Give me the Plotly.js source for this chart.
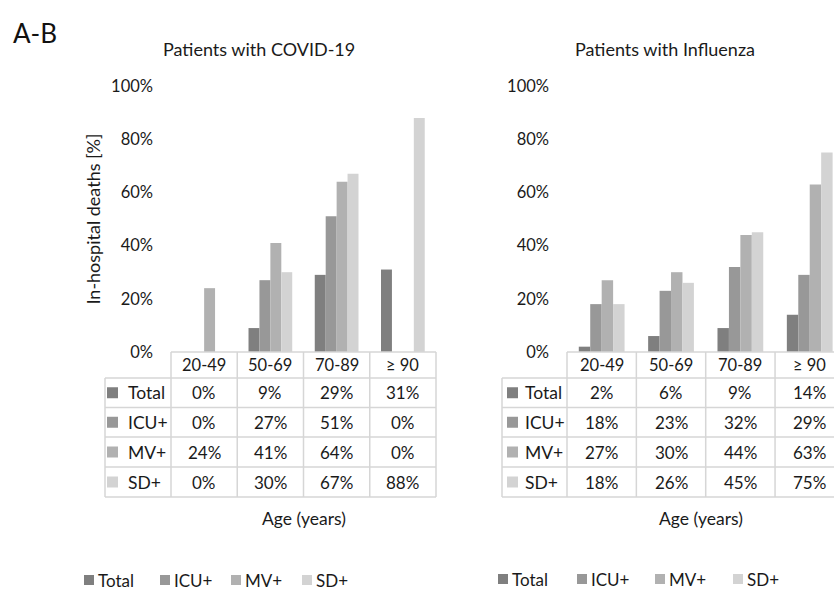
<!DOCTYPE html>
<html><head><meta charset="utf-8">
<script src="https://cdn.plot.ly/plotly-3.0.1.min.js"></script>
<style>html,body{margin:0;padding:0;background:#fff}</style>
</head><body><div id="chart" style="width:834px;height:590px"></div>
<script>
// ---- data ----
const ageGroups = ['20-49', '50-69', '70-89', '≥ 90'];
const seriesNames = ['Total', 'ICU+', 'MV+', 'SD+'];
const covidTotal = [0, 9, 29, 31];
const covidICU   = [0, 27, 51, 0];
const covidMV    = [24, 41, 64, 0];
const covidSD    = [0, 30, 67, 88];
const fluTotal = [2, 6, 9, 14];
const fluICU   = [18, 23, 32, 29];
const fluMV    = [27, 30, 44, 63];
const fluSD    = [18, 26, 45, 75];
const yTicks = [0, 20, 40, 60, 80, 100];
const panelTitles = ['Patients with COVID-19', 'Patients with Influenza'];
const seriesColors = ['#7f7f7f', '#989898', '#b1b1b1', '#d3d3d3'];

// ---- geometry ----
const W = 834, H = 590;
const X = p => p / W;
const Y = p => 1 - p / H;
const FONT = 'Lato, "Open Sans", sans-serif';
const TXT = '#1a1a1a';
const GRID = '#d6d6d6';
const NUM = 16.5, WORD = 17.5;
const rowY = [352, 378, 407.5, 437, 467, 497];

const panels = [
  {xa: 'x', ya: 'y', dom: [171, 436], range: [-0.5, 3.5], labelLeft: 105, sqLeft: 107, textLeft: 126,
   titleX: 259, data: [covidTotal, covidICU, covidMV, covidSD], legSq: [84, 160, 231, 302], legY: 580},
  {xa: 'x2', ya: 'y2', dom: [567, 834], range: [-0.5, 3.35], labelLeft: 502, sqLeft: 507, textLeft: 523,
   titleX: 665, data: [fluTotal, fluICU, fluMV, fluSD], legSq: [498, 577, 655, 733], legY: 579}
];

const traces = [];
const shapes = [];
const annotations = [];

annotations.push({xref: 'paper', yref: 'paper', x: X(11), y: Y(33), xanchor: 'left', yanchor: 'middle',
  text: 'A-B', showarrow: false, font: {size: 26, color: '#111', family: FONT}});

const line = (x0, y0, x1, y1) => shapes.push({type: 'line', xref: 'paper', yref: 'paper',
  x0: X(x0), y0: Y(y0), x1: X(x1), y1: Y(y1), line: {color: GRID, width: 1.5}});

panels.forEach((p, pi) => {
  p.data.forEach((vals, si) => {
    traces.push({type: 'bar', x: ageGroups, y: vals, name: seriesNames[si], xaxis: p.xa, yaxis: p.ya,
      marker: {color: seriesColors[si], line: {width: 0}}, showlegend: false,
      hovertemplate: '%{x}: %{y}%<extra>' + seriesNames[si] + '</extra>'});
  });
  const toPx = v => p.dom[0] + (v - p.range[0]) / (p.range[1] - p.range[0]) * (p.dom[1] - p.dom[0]);
  const right = Math.min(toPx(ageGroups.length - 0.5), W);
  // horizontal lines
  line(p.dom[0], rowY[0], right, rowY[0]);
  for (let r = 1; r < rowY.length; r++) line(p.labelLeft, rowY[r], right, rowY[r]);
  // vertical lines
  line(p.labelLeft, rowY[1], p.labelLeft, rowY[5]);
  for (let c = 0; c <= ageGroups.length; c++) {
    const xp = toPx(c - 0.5);
    if (xp <= W) line(xp, rowY[0], xp, rowY[5]);
  }
  // header
  ageGroups.forEach(g => annotations.push({xref: p.xa, yref: 'paper', x: g, y: Y((rowY[0] + rowY[1]) / 2),
    xanchor: 'center', yanchor: 'middle', text: g, showarrow: false, font: {size: NUM, color: TXT, family: FONT}}));
  // rows
  p.data.forEach((vals, si) => {
    const yc = (rowY[si + 1] + rowY[si + 2]) / 2;
    shapes.push({type: 'rect', xref: 'paper', yref: 'paper', x0: X(p.sqLeft), x1: X(p.sqLeft + 11),
      y0: Y(yc - 5.5), y1: Y(yc + 5.5), fillcolor: seriesColors[si], line: {width: 0}});
    annotations.push({xref: 'paper', yref: 'paper', x: X(p.textLeft), y: Y(yc), xanchor: 'left', yanchor: 'middle',
      text: seriesNames[si], showarrow: false, font: {size: WORD, color: TXT, family: FONT}});
    vals.forEach((v, ci) => annotations.push({xref: p.xa, yref: 'paper', x: ageGroups[ci], y: Y(yc),
      xanchor: 'center', yanchor: 'middle', text: v + '%', showarrow: false, font: {size: 17, color: TXT, family: FONT}}));
  });
  // x label
  annotations.push({xref: 'paper', yref: 'paper', x: X((p.dom[0] + p.dom[1]) / 2), y: Y(518), xanchor: 'center',
    yanchor: 'middle', text: 'Age (years)', showarrow: false, font: {size: WORD, color: TXT, family: FONT}});
  // panel title
  annotations.push({xref: 'paper', yref: 'paper', x: X(p.titleX), y: Y(49), xanchor: 'center', yanchor: 'middle',
    text: panelTitles[pi], showarrow: false, font: {size: 18, color: TXT, family: FONT}});
  // bottom legend
  seriesNames.forEach((n, si) => {
    const sx = p.legSq[si];
    shapes.push({type: 'rect', xref: 'paper', yref: 'paper', x0: X(sx), x1: X(sx + 10),
      y0: Y(p.legY - 5), y1: Y(p.legY + 5), fillcolor: seriesColors[si], line: {width: 0}});
    annotations.push({xref: 'paper', yref: 'paper', x: X(sx + 13), y: Y(p.legY), xanchor: 'left', yanchor: 'middle',
      text: n, showarrow: false, borderpad: 0, font: {size: 17, color: TXT, family: FONT}});
  });
});

const yBase = {range: [0, 100], tickvals: yTicks, ticktext: yTicks.map(t => t + '%'), showgrid: false,
  zeroline: false, showline: false, ticks: '', ticklabelstandoff: 17, fixedrange: true,
  tickfont: {size: NUM, color: TXT, family: FONT}, domain: [Y(352), Y(86)]};
const xBase = {type: 'category', showticklabels: false, showgrid: false, zeroline: false, showline: false,
  ticks: '', fixedrange: true};

const layout = {
  width: W, height: H, margin: {l: 0, r: 0, t: 0, b: 0}, paper_bgcolor: '#fff', plot_bgcolor: '#fff',
  font: {family: FONT, color: TXT, size: 16},
  barmode: 'group', bargap: 0.34, bargroupgap: 0, showlegend: false,
  xaxis: Object.assign({}, xBase, {domain: [X(171), X(436)], range: panels[0].range, anchor: 'y'}),
  yaxis: Object.assign({}, yBase, {anchor: 'x', title: {text: 'In-hospital deaths [%]', standoff: 5,
    font: {size: 18, color: TXT, family: FONT}}}),
  xaxis2: Object.assign({}, xBase, {domain: [X(567), 1], range: panels[1].range, anchor: 'y2'}),
  yaxis2: Object.assign({}, yBase, {anchor: 'x2'}),
  shapes: shapes, annotations: annotations
};

Plotly.newPlot('chart', traces, layout, {displayModeBar: false, responsive: false});
</script></body></html>
